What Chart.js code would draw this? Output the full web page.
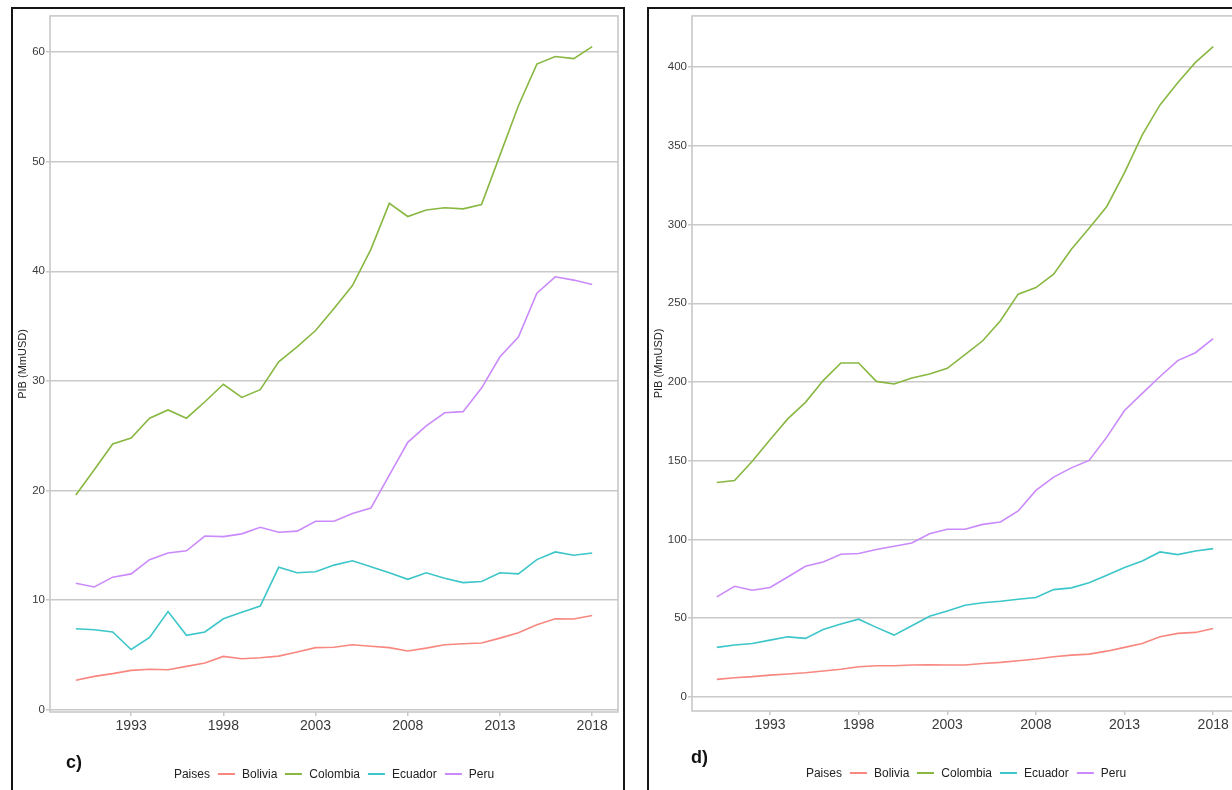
<!DOCTYPE html>
<html>
<head>
<meta charset="utf-8">
<script src="https://cdn.jsdelivr.net/npm/chart.js@4.4.1/dist/chart.umd.min.js"></script>
<style>
  html, body { margin: 0; padding: 0; background: #ffffff; width: 1232px; height: 790px; overflow: hidden; }
  body { position: relative; font-family: "Liberation Sans", Arial, sans-serif; }
  .frame { position: absolute; box-sizing: border-box; border: 2px solid #151515; }
  canvas { position: absolute; }
  .tag { position: absolute; font-weight: bold; font-size: 18px; color: #111; line-height: 1; }
  .legend { position: absolute; display: flex; align-items: center; font-size: 12px; color: #222; white-space: nowrap; transform: translateX(-50%); }
  .legend .sw { display: inline-block; width: 17px; height: 2px; margin: 0 7px 0 8px; }
</style>
</head>
<body>
<div class="frame" style="left:11px; top:7px; width:614px; height:800px;"></div>
<div class="frame" style="left:647px; top:7px; width:700px; height:800px;"></div>
<canvas id="chartC" width="613" height="782" style="left:11px; top:8px;"></canvas>
<canvas id="chartD" width="600" height="782" style="left:647px; top:8px;"></canvas>
<div class="tag" style="left:66px; top:753px;">c)</div>
<div class="tag" style="left:691px; top:748px;">d)</div>
<div class="legend" id="legC" style="left:334px; top:767px;"></div>
<div class="legend" id="legD" style="left:966px; top:766px;"></div>
<script>
// Years on the horizontal axis
const years = [1990, 1991, 1992, 1993, 1994, 1995, 1996, 1997, 1998, 1999,
               2000, 2001, 2002, 2003, 2004, 2005, 2006, 2007, 2008, 2009,
               2010, 2011, 2012, 2013, 2014, 2015, 2016, 2017, 2018];
const countries = ['Bolivia', 'Colombia', 'Ecuador', 'Peru'];
const legendTitle = 'Paises';
const axisTitle = 'PIB (MmUSD)';
const xTicks = [1993, 1998, 2003, 2008, 2013, 2018];

// Panel c)
const boliviaC  = [2.7, 3.05, 3.3, 3.6, 3.7, 3.66, 3.96, 4.27, 4.87, 4.66, 4.75, 4.9, 5.27, 5.67, 5.7, 5.94, 5.8, 5.67, 5.36, 5.63, 5.94, 6.03, 6.09, 6.54, 7.03, 7.76, 8.31, 8.28, 8.61];
const colombiaC = [19.6, 21.9, 24.25, 24.8, 26.6, 27.35, 26.6, 28.1, 29.7, 28.5, 29.2, 31.75, 33.1, 34.6, 36.6, 38.7, 42.0, 46.2, 45.0, 45.6, 45.8, 45.7, 46.1, 50.6, 55.1, 58.9, 59.6, 59.4, 60.5];
const ecuadorC  = [7.4, 7.3, 7.1, 5.5, 6.6, 8.97, 6.8, 7.1, 8.3, 8.9, 9.46, 13.0, 12.5, 12.6, 13.2, 13.6, 13.05, 12.5, 11.9, 12.5, 12.0, 11.6, 11.7, 12.5, 12.4, 13.7, 14.4, 14.1, 14.3];
const peruC     = [11.55, 11.2, 12.1, 12.4, 13.7, 14.3, 14.5, 15.85, 15.8, 16.05, 16.65, 16.2, 16.3, 17.2, 17.2, 17.9, 18.4, 21.4, 24.4, 25.9, 27.1, 27.2, 29.35, 32.2, 34.0, 38.0, 39.5, 39.2, 38.8];
const yTicksC   = [0, 10, 20, 30, 40, 50, 60];

// Panel d)
const boliviaD  = [11.2, 12.2, 12.9, 13.9, 14.6, 15.4, 16.5, 17.6, 19.2, 19.8, 19.8, 20.3, 20.4, 20.3, 20.3, 21.3, 22.0, 23.0, 24.1, 25.5, 26.6, 27.2, 29.1, 31.5, 34.0, 38.2, 40.4, 41.0, 43.5];
const colombiaD = [136.2, 137.5, 149.7, 163.3, 176.6, 187.1, 200.9, 212.1, 212.1, 200.4, 198.8, 202.6, 205.1, 208.7, 217.4, 226.2, 238.9, 255.8, 260.0, 268.5, 284.3, 297.6, 311.5, 333.0, 357.0, 376.0, 390.0, 403.0, 413.0];
const ecuadorD  = [31.5, 33.0, 34.0, 36.1, 38.2, 37.2, 42.9, 46.3, 49.4, 44.2, 39.3, 45.2, 51.3, 54.6, 58.3, 59.8, 60.8, 62.1, 63.2, 68.2, 69.3, 72.5, 77.3, 82.2, 86.4, 92.1, 90.4, 92.7, 94.2];
const peruD     = [63.6, 70.3, 67.8, 69.5, 76.2, 83.0, 85.7, 90.6, 91.1, 93.6, 95.7, 97.8, 103.7, 106.5, 106.5, 109.6, 111.1, 118.1, 131.2, 139.6, 145.5, 150.2, 165.0, 181.9, 192.8, 203.5, 213.6, 218.6, 227.5];
const yTicksD   = [0, 50, 100, 150, 200, 250, 300, 350, 400];

const colors = ['#F8877F', '#88B742', '#3CC6C9', '#CB8AFB'];
const gridColor = '#c9c9c9';
const tickFont = { family: '"Liberation Sans", Arial, sans-serif' };

// Grey frame around the plotting area
const panelBorder = {
  id: 'panelBorder',
  beforeDatasetsDraw(chart) {
    const a = chart.chartArea, ctx = chart.ctx;
    ctx.save();
    ctx.strokeStyle = gridColor;
    ctx.lineWidth = 1.6;
    ctx.strokeRect(a.left, a.top, a.right - a.left, a.bottom - a.top);
    ctx.restore();
  }
};

function makeChart(id, series, yTicks, yMin, yMax, opts) {
  const datasets = series.map((vals, i) => ({
    label: countries[i],
    data: years.map((yr, j) => ({ x: yr, y: vals[j] })),
    borderColor: colors[i],
    borderWidth: 1.6,
    pointRadius: 0,
    tension: 0,
    fill: false
  }));
  return new Chart(document.getElementById(id), {
    type: 'line',
    data: { datasets },
    plugins: [panelBorder],
    options: {
      responsive: false,
      animation: false,
      layout: { padding: { top: opts.top, right: opts.right, left: 0, bottom: 0 } },
      plugins: { legend: { display: false }, tooltip: { enabled: false } },
      scales: {
        x: {
          type: 'linear',
          min: 1988.6, max: 2019.4,
          afterBuildTicks: s => { s.ticks = xTicks.map(v => ({ value: v })); },
          afterFit: s => { s.height = opts.xHeight; },
          grid: { drawOnChartArea: false, drawTicks: true, tickLength: 4, tickColor: gridColor, lineWidth: 1.5 },
          border: { display: false },
          ticks: { autoSkip: false, maxRotation: 0, padding: 2, color: '#3a3a3a',
                   font: Object.assign({ size: 14 }, tickFont), callback: v => String(v) }
        },
        y: {
          type: 'linear',
          min: yMin, max: yMax,
          afterBuildTicks: s => { s.ticks = yTicks.map(v => ({ value: v })); },
          afterFit: s => { s.width = opts.yWidth; },
          grid: { color: gridColor, lineWidth: 1.5, tickLength: 4, tickColor: gridColor },
          border: { display: false },
          ticks: { padding: 1, color: '#3a3a3a', font: Object.assign({ size: 11.5 }, tickFont),
                   callback: v => String(v) },
          title: { display: true, text: axisTitle, color: '#222',
                   font: Object.assign({ size: 11 }, tickFont), padding: { top: 5, bottom: 0 } }
        }
      }
    }
  });
}

makeChart('chartC', [boliviaC, colombiaC, ecuadorC, peruC], yTicksC, -0.2, 63.3,
          { top: 7, right: 6, yWidth: 39, xHeight: 78 });
makeChart('chartD', [boliviaD, colombiaD, ecuadorD, peruD], yTicksD, -8.9, 432.5,
          { top: 7, right: 9, yWidth: 45, xHeight: 79 });

// Legend rows under each panel
function buildLegend(id) {
  const el = document.getElementById(id);
  const t = document.createElement('span');
  t.textContent = legendTitle;
  el.appendChild(t);
  countries.forEach((name, i) => {
    const sw = document.createElement('span');
    sw.className = 'sw';
    sw.style.background = colors[i];
    el.appendChild(sw);
    const lb = document.createElement('span');
    lb.textContent = name;
    el.appendChild(lb);
  });
}
buildLegend('legC');
buildLegend('legD');
</script>
</body>
</html>
